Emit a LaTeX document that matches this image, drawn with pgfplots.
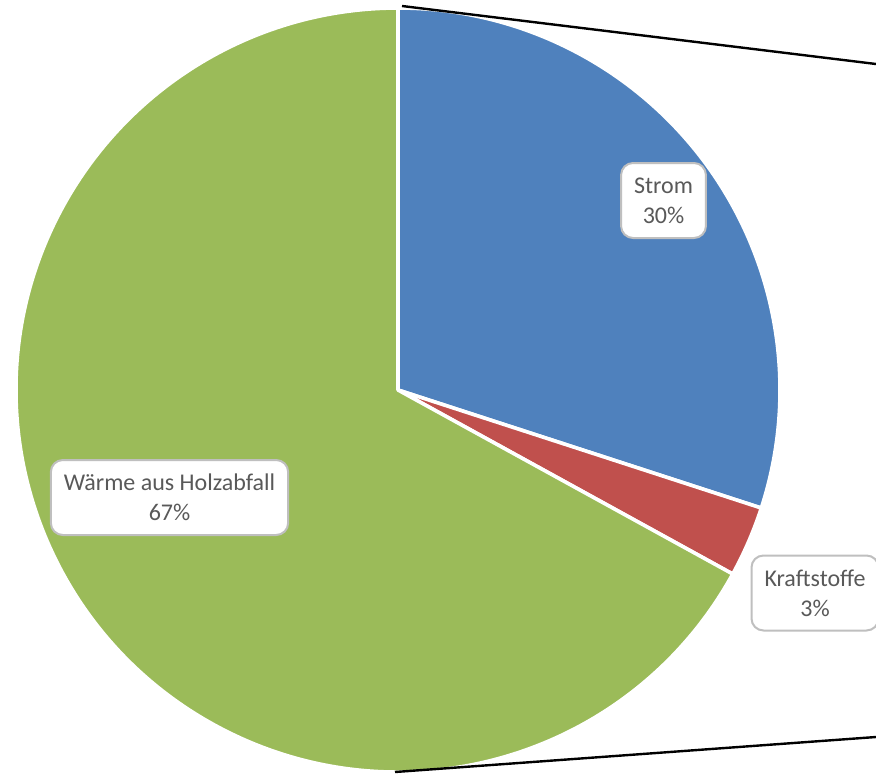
\documentclass[border=0pt]{standalone}
\usepackage{pgfplots}
\usepackage{pgfplotstable}
\pgfplotsset{compat=1.18}
\usepackage{fontspec}
\setmainfont{Carlito}
\definecolor{cblue}{HTML}{4F81BD}
\definecolor{cred}{HTML}{C0504D}
\definecolor{cgreen}{HTML}{9BBB59}
\definecolor{ctext}{HTML}{595959}
\definecolor{cbox}{HTML}{BFBFBF}
\pgfplotstableread[col sep=comma]{
name,value
Strom,30
Kraftstoffe,3
Waerme,67
}\piedata
\begin{document}
\begin{tikzpicture}
\useasboundingbox (0,0) rectangle (438pt,386.5pt);
\pgfplotstablegetelem{0}{value}\of\piedata \let\vA\pgfplotsretval
\pgfplotstablegetelem{1}{value}\of\piedata \let\vB\pgfplotsretval
\pgfplotstablegetelem{2}{value}\of\piedata \let\vC\pgfplotsretval
\pgfmathsetmacro\aA{90}
\pgfmathsetmacro\aB{90-3.6*\vA}
\pgfmathsetmacro\aC{\aB-3.6*\vB}
\pgfmathsetmacro\aD{\aC-3.6*\vC}
\begin{axis}[
  at={(0,0)}, anchor=south west,
  x=0.5pt, y=0.5pt,
  xmin=0, xmax=876, ymin=0, ymax=773,
  hide axis, scale only axis,
  clip=true,
]
\def\R{191pt}
\fill[cblue, draw=white, line width=1.8pt, line join=round]
  (axis cs:398,383) -- ++(\aA:\R) arc[start angle=\aA, end angle=\aB, radius=\R] -- cycle;
\fill[cred, draw=white, line width=1.8pt, line join=round]
  (axis cs:398,383) -- ++(\aB:\R) arc[start angle=\aB, end angle=\aC, radius=\R] -- cycle;
\fill[cgreen, draw=white, line width=1.8pt, line join=round]
  (axis cs:398,383) -- ++(\aC:\R) arc[start angle=\aC, end angle=\aD, radius=\R] -- cycle;
\draw[black, line width=1.2pt] (axis cs:402,767) -- (axis cs:880,708.5);
\draw[black, line width=1.2pt] (axis cs:395,1) -- (axis cs:880,36.3);
\tikzset{lbl/.style={fill=white, draw=cbox, line width=1pt, rounded corners=6pt,
  align=center, text=ctext, font=\fontsize{12}{15}\selectfont,
  inner xsep=6.5pt, minimum height=37.5pt}}
\node[lbl] at (axis cs:663.5,572.5) {Strom\\30\%};
\node[lbl] at (axis cs:815,180) {Kraftstoffe\\3\%};
\node[lbl] at (axis cs:169.5,275.5) {Wärme aus Holzabfall\\67\%};
\end{axis}
\end{tikzpicture}
\end{document}
